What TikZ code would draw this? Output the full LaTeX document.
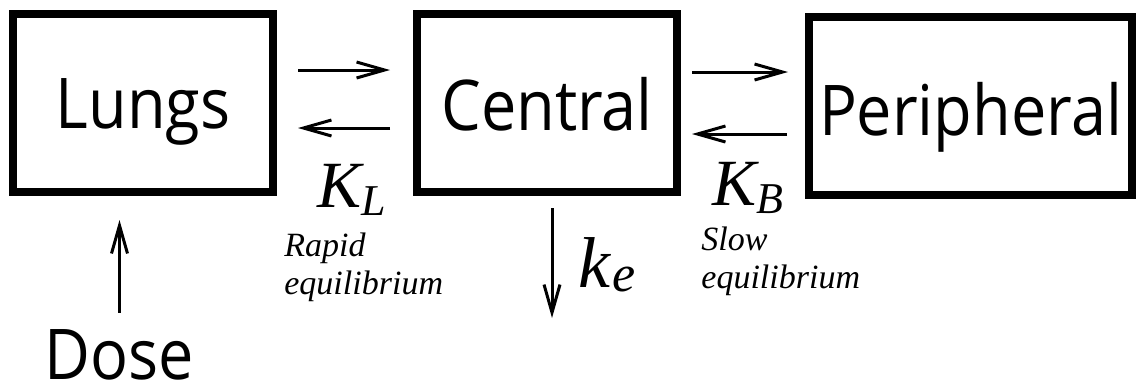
\documentclass[tikz,border=0pt]{standalone}
\usepackage{fontspec}
\setmainfont{Liberation Serif}
\newfontfamily\boxfont[FakeStretch=0.9]{Open Sans}
\usetikzlibrary{arrows.meta}
\tikzset{
  compartment/.style={draw, line width=4pt, minimum width=130pt, minimum height=89pt,
    inner sep=0pt, text height=25pt, text depth=0pt, font=\boxfont\fontsize{35}{40}\selectfont},
  flow/.style={line width=1.5pt, -{Straight Barb[length=14pt,width=8pt]}},
  rate/.style={inner sep=0pt, anchor=base west, font=\itshape\fontsize{33}{36}\selectfont},
  note/.style={inner sep=0pt, anchor=north west, align=left, font=\itshape\fontsize{17}{19}\selectfont}
}
\newcommand{\ratesub}[3]{#1\kern#3\lower4pt\hbox{\fontsize{22}{24}\selectfont #2}}

\begin{document}
\begin{tikzpicture}[x=0.5pt,y=-0.5pt]
\useasboundingbox (0,0) rectangle (1136,387);
% Compartments
\node[compartment] (lungs) at (143,103) {Lungs};
\node[compartment, text height=27pt] (central) at (547,103) {Central};
\node[compartment, text height=29pt] (periph) at (970.5,106) [minimum width=161.5pt] {Peripheral};
% Dose into the lungs
\node[inner sep=0pt, anchor=base, text depth=0pt, font=\boxfont\fontsize{35}{40}\selectfont] (dose) at (119.5,379) {Dose};
\draw[flow, shorten <=8pt, shorten >=12pt] (dose.north) -- (dose.north |- lungs.south);
% Lungs <-> Central
\draw[flow, shorten <=10.5pt, shorten >=11.5pt] ([yshift=16.5pt]lungs.east) -- ([yshift=16.5pt]central.west);
\draw[flow, shorten <=11.5pt, shorten >=10.5pt] ([yshift=-12.5pt]central.west) -- ([yshift=-12.5pt]lungs.east);
\node[rate] (kl) at (317,207) {\ratesub{K}{L}{0pt}};
\node[note] (rapid) at (284,233) {Rapid\\equilibrium};
% Central <-> Peripheral
\draw[flow, shorten <=5.5pt, shorten >=8.5pt] ([yshift=15.5pt]central.east) -- ([yshift=17pt]periph.west);
\draw[flow, shorten <=9pt, shorten >=5.5pt] ([yshift=-14pt]periph.west) -- ([yshift=-15.5pt]central.east);
\node[rate] (kb) at (712,205) {\ratesub{K}{B}{0pt}};
\node[note] (slow) at (701,227) {Slow\\equilibrium};
% Elimination
\coordinate (drain) at (552,318);
\draw[flow, shorten <=6pt] (central.south -| drain) -- (drain);
\node[rate, font=\itshape\fontsize{36}{40}\selectfont] (ke) at (578,287) {k\kern1pt\lower2pt\hbox{\fontsize{26}{28}\selectfont e}};
\end{tikzpicture}
\end{document}
